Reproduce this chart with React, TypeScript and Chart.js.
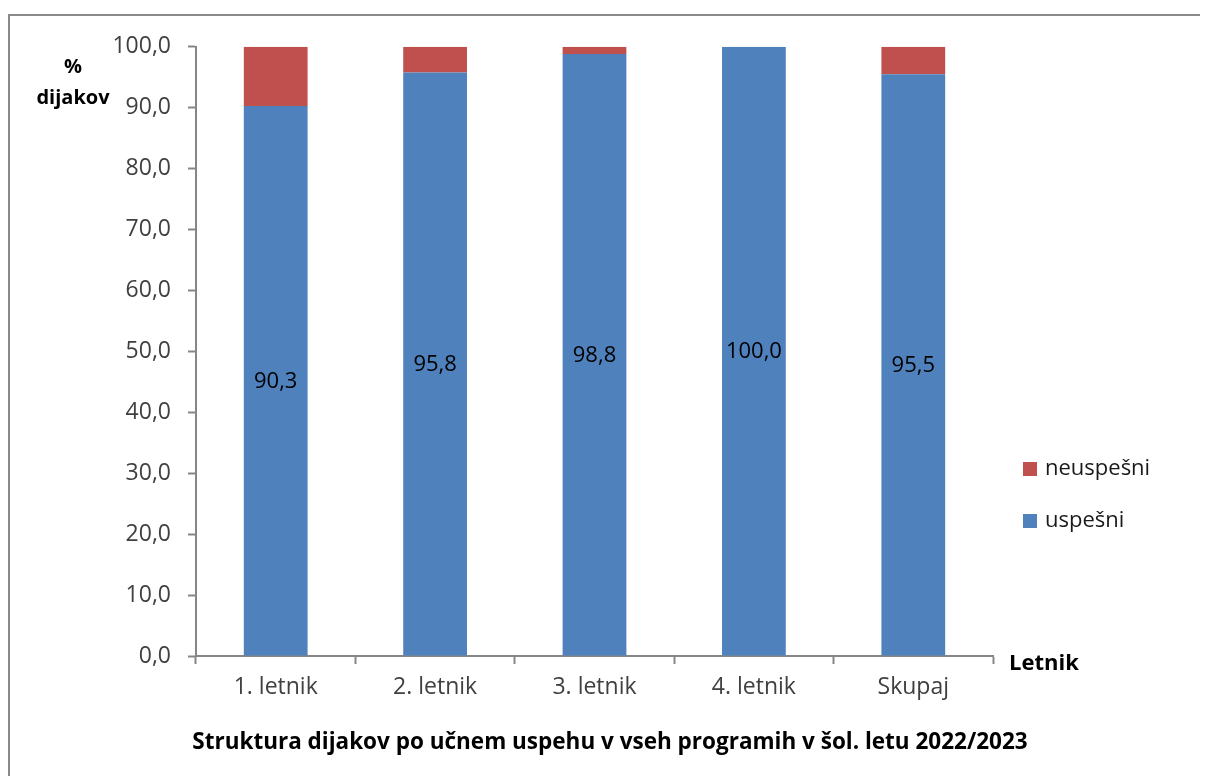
import React, { useEffect, useRef } from "react";
import { Chart, registerables } from "chart.js";

Chart.register(...registerables);

const categories = ["1. letnik", "2. letnik", "3. letnik", "4. letnik", "Skupaj"];
const uspesni = [90.3, 95.8, 98.8, 100.0, 95.5];
const neuspesni = [9.7, 4.2, 1.2, 0.0, 4.5];
const seriesNames = ["uspešni", "neuspešni"];
const yTitleLines = ["%", "dijakov"];
const xTitle = "Letnik";
const chartTitle = "Struktura dijakov po učnem uspehu v vseh programih v šol. letu 2022/2023";

const BLUE = "#4F81BD";
const RED = "#C0504D";
const AXIS = "#868686";
const FONT = "'Open Sans', 'Noto Sans', sans-serif";

const fmt = (v: number) => v.toFixed(1).replace(".", ",");

const extrasPlugin = {
  id: "extras",
  afterDatasetsDraw(chart: any) {
    const { ctx, chartArea } = chart;
    ctx.save();
    // data labels on uspešni bars
    const meta = chart.getDatasetMeta(0);
    ctx.font = `22px ${FONT}`;
    ctx.fillStyle = "#000000";
    ctx.textAlign = "center";
    ctx.textBaseline = "middle";
    meta.data.forEach((bar: any, i: number) => {
      const { x, y, base } = bar.getProps(["x", "y", "base"], true);
      ctx.fillText(fmt(uspesni[i]), x, (y + base) / 2 + 1);
    });

    // y axis title
    ctx.font = `bold 20px ${FONT}`;
    ctx.fillStyle = "#000000";
    ctx.fillText(yTitleLines[0], 63, 51);
    ctx.fillText(yTitleLines[1], 63, 82);

    // x axis title
    ctx.textAlign = "left";
    ctx.font = `bold 22px ${FONT}`;
    ctx.fillText(xTitle, chartArea.right + 16, chartArea.bottom + 8);

    // chart title
    ctx.textAlign = "center";
    ctx.font = `bold 22.5px ${FONT}`;
    ctx.fillText(chartTitle, 600, 727);

    // legend
    const items = [
      { label: seriesNames[1], color: RED, y: 453 },
      { label: seriesNames[0], color: BLUE, y: 505 },
    ];
    ctx.font = `22px ${FONT}`;
    ctx.textAlign = "left";
    items.forEach((it) => {
      ctx.fillStyle = it.color;
      ctx.fillRect(1013, it.y - 7, 14, 14);
      ctx.fillStyle = "#1a1a1a";
      ctx.fillText(it.label, 1035, it.y);
    });
    ctx.restore();
  },
};

export default function App() {
  const ref = useRef<HTMLCanvasElement | null>(null);
  useEffect(() => {
    document.body.style.overflow = "hidden";
    document.documentElement.style.overflow = "hidden";
    const canvas = ref.current!;
    const chart = new Chart(canvas, {
      type: "bar",
      data: {
        labels: categories,
        datasets: [
          {
            label: seriesNames[0],
            data: uspesni,
            backgroundColor: BLUE,
            borderWidth: 0,
            barPercentage: 0.4,
            categoryPercentage: 1,
          },
          {
            label: seriesNames[1],
            data: neuspesni,
            backgroundColor: RED,
            borderWidth: 0,
            barPercentage: 0.4,
            categoryPercentage: 1,
          },
        ],
      },
      options: {
        animation: false,
        responsive: false,
        devicePixelRatio: 1,
        layout: { padding: { top: 30, right: 215, left: 0, bottom: 0 } },
        plugins: {
          legend: { display: false },
          tooltip: { enabled: false },
          title: { display: false },
        },
        scales: {
          x: {
            stacked: true,
            grid: {
              display: true,
              drawOnChartArea: false,
              drawTicks: true,
              tickLength: 8,
              tickWidth: 2,
              color: AXIS,
              offset: true,
            },
            border: { display: true, color: AXIS, width: 2 },
            ticks: {
              color: "#404040",
              font: { family: FONT, size: 23 },
              padding: 10,
            },
            afterFit(scale: any) {
              scale.height = 120;
            },
          },
          y: {
            stacked: true,
            min: 0,
            max: 100,
            grid: {
              display: true,
              drawOnChartArea: false,
              drawTicks: true,
              tickLength: 8,
              tickWidth: 2,
              color: AXIS,
            },
            border: { display: true, color: AXIS, width: 2 },
            ticks: {
              stepSize: 10,
              color: "#404040",
              font: { family: FONT, size: 23 },
              padding: 17,
              callback: (v: any) => fmt(Number(v)),
            },
            afterFit(scale: any) {
              scale.width = 186;
            },
          },
        },
      },
      plugins: [extrasPlugin],
    });
    return () => chart.destroy();
  }, []);

  return (
    <div
      style={{
        marginTop: 6,
        borderTop: "2px solid #898989",
        borderLeft: "2px solid #898989",
        width: 1200,
        height: 762,
        boxSizing: "border-box",
        overflow: "hidden",
      }}
    >
      <canvas ref={ref} width={1198} height={760} style={{ display: "block" }} />
    </div>
  );
}
